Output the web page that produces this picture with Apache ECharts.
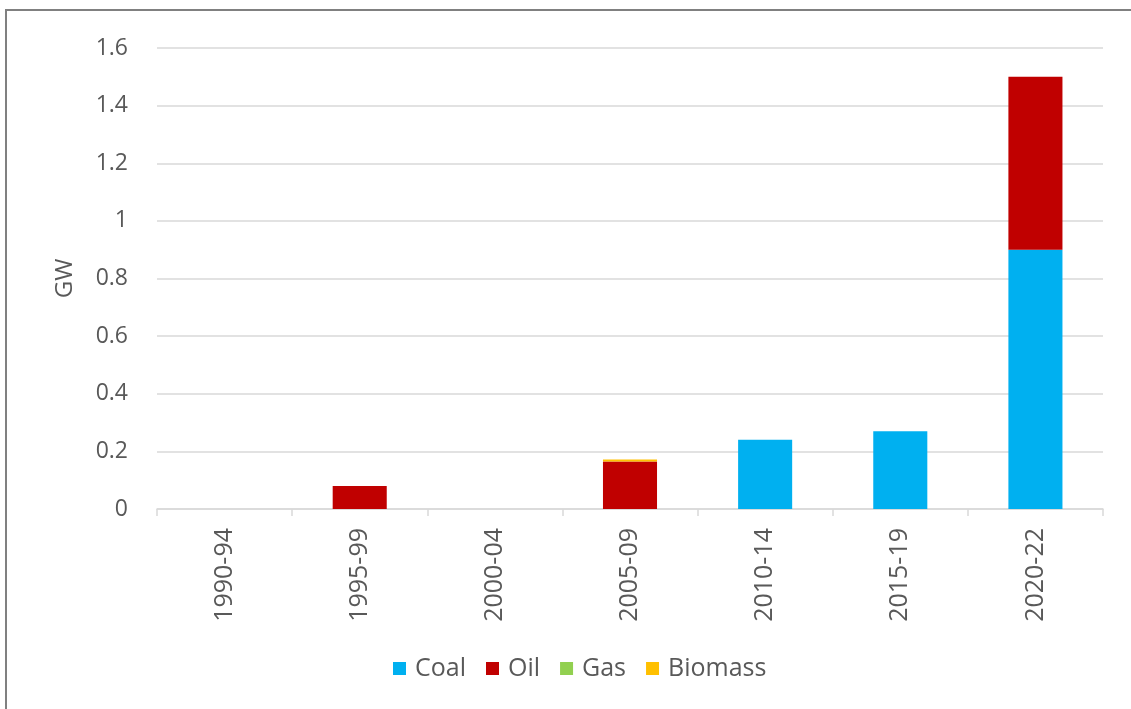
<!DOCTYPE html>
<html>
<head>
<meta charset="utf-8">
<script src="https://cdn.jsdelivr.net/npm/echarts@6/dist/echarts.min.js"></script>
<style>
  html, body { margin: 0; padding: 0; background: #fff; }
  #chart { width: 1131px; height: 709px; }
  #frame { position: absolute; left: 5px; top: 9px; right: -4px; bottom: -4px;
           border-top: 2px solid #808080; border-left: 2px solid #808080; pointer-events: none; }
</style>
</head>
<body>
<div id="chart"></div>
<div id="frame"></div>
<script>
// Periods and installed capacity (GW) by fuel
const periods = ['1990-94', '1995-99', '2000-04', '2005-09', '2010-14', '2015-19', '2020-22'];
const coal    = [0, 0, 0, 0, 0.24, 0.27, 0.9];
const oil     = [0, 0.08, 0, 0.165, 0, 0, 0.6];
const gas     = [0, 0, 0, 0, 0, 0, 0];
const biomass = [0, 0, 0, 0.007, 0, 0, 0];
const yTicks  = ['0', '0.2', '0.4', '0.6', '0.8', '1', '1.2', '1.4', '1.6'];

const font = '"Open Sans", "DejaVu Sans", sans-serif';
const txt = '#595959';

function bar(name, data, color) {
  return { name, type: 'bar', stack: 'total', data, barWidth: '40%',
           itemStyle: { color }, emphasis: { disabled: true } };
}

const chart = echarts.init(document.getElementById('chart'), null, { renderer: 'canvas' });
chart.setOption({
  animation: false,
  grid: { left: 157, right: 28, top: 48, bottom: 200 },
  legend: {
    top: 651, left: 388,
    itemWidth: 13, itemHeight: 13, itemGap: 20,
    icon: 'rect',
    textStyle: { color: txt, fontSize: 25, fontFamily: font, padding: [0, 0, 0, 4] },
    data: ['Coal', 'Oil', 'Gas', 'Biomass']
  },
  xAxis: {
    type: 'category', data: periods,
    axisLine: { lineStyle: { color: '#d9d9d9', width: 1.5 } },
    axisTick: { show: true, length: 7, lineStyle: { color: '#d9d9d9', width: 1.5 } },
    axisLabel: { rotate: 90, margin: 19, color: txt, fontSize: 25, fontFamily: font }
  },
  yAxis: {
    type: 'value', min: 0, max: 1.6, interval: 0.2,
    name: 'GW', nameLocation: 'middle', nameGap: 80, nameRotate: 90,
    nameTextStyle: { color: txt, fontSize: 24, fontFamily: font },
    axisLine: { show: false }, axisTick: { show: false },
    splitLine: { lineStyle: { color: '#d9d9d9', width: 1.5 } },
    axisLabel: {
      margin: 29, color: txt, fontSize: 23, fontFamily: font,
      formatter: v => yTicks[Math.round(v / 0.2)]
    }
  },
  series: [
    bar('Coal', coal, '#00B0F0'),
    bar('Oil', oil, '#C00000'),
    bar('Gas', gas, '#92D050'),
    bar('Biomass', biomass, '#FFC000')
  ]
});
</script>
</body>
</html>
